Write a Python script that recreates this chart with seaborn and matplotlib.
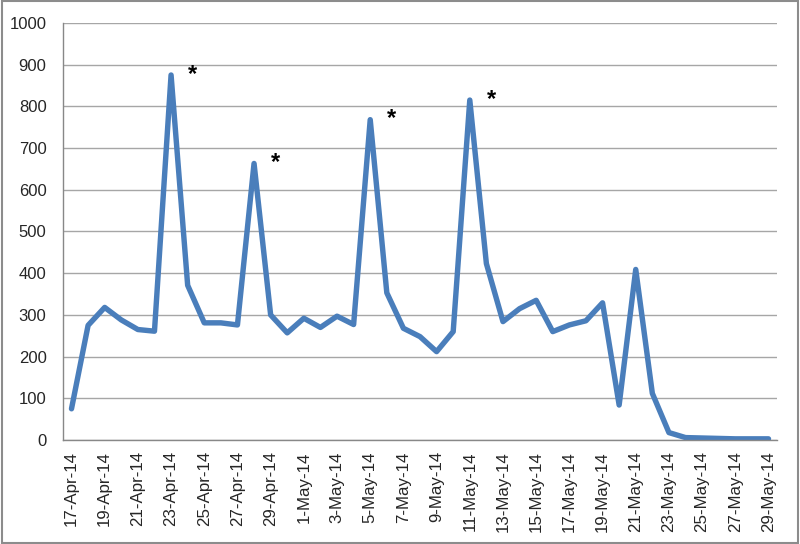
import pandas as pd
import seaborn as sns
import matplotlib.pyplot as plt
from matplotlib.patches import Rectangle

# daily counts, 17-Apr-14 .. 29-May-14
dates = pd.date_range("2014-04-17", "2014-05-29", freq="D")
values = [75, 275, 318, 288, 265, 261, 875, 371, 281, 281,
          276, 663, 300, 257, 292, 270, 297, 277, 768, 353,
          268, 248, 212, 260, 815, 423, 284, 315, 335, 260,
          276, 286, 329, 84, 409, 112, 18, 6, 5, 4,
          3, 3, 3]
labels = [f"{d.day}-{d.strftime('%b-%y')}" for d in dates]
starred = [6, 11, 18, 24]  # peaks marked with *

df = pd.DataFrame({"pos": range(len(values)), "value": values})

sns.set_style("white")
plt.rcParams["font.family"] = ["Liberation Sans", "DejaVu Sans"]

fig = plt.figure(figsize=(8, 5.44), dpi=100)
ax = fig.add_axes([0.079, 0.191, 0.892, 0.767])

sns.lineplot(data=df, x="pos", y="value", ax=ax, color="#4A7EBB", linewidth=3.9,
             solid_joinstyle="round", solid_capstyle="round")

#star next to each peak
for i in starred:
    ax.text(i + 1.3, values[i] + 2, "*", fontsize=17, fontweight="bold",
            ha="center", va="center", color="black")

ax.set_xlim(-0.5, len(values) - 0.5)
ax.set_ylim(0, 1000)
ax.set_yticks(range(0, 1001, 100))
ax.yaxis.grid(True, color="#A6A6A6", linewidth=1)
ax.set_axisbelow(True)

ax.set_xticks(range(0, len(values), 2))
ax.set_xticklabels(labels[::2], rotation=90)
ax.set_xticks([i - 0.5 for i in range(0, len(values), 2)], minor=True)
ax.tick_params(axis="x", which="major", length=0, pad=8, labelsize=12.2)
ax.tick_params(axis="x", which="minor", length=5, color="#888888", width=1)
ax.tick_params(axis="y", length=5, color="#888888", width=1, labelsize=12, pad=7)

for s in ["top", "right"]:
    ax.spines[s].set_visible(False)
for s in ["left", "bottom"]:
    ax.spines[s].set_color("#888888")
    ax.spines[s].set_linewidth(1)

ax.set_xlabel("")
ax.set_ylabel("")

fig.add_artist(Rectangle((0.002, 0.002), 0.996, 0.996, transform=fig.transFigure,
                         fill=False, edgecolor="#8C8C8C", linewidth=1.5))

plt.savefig("out.png", dpi=100)
